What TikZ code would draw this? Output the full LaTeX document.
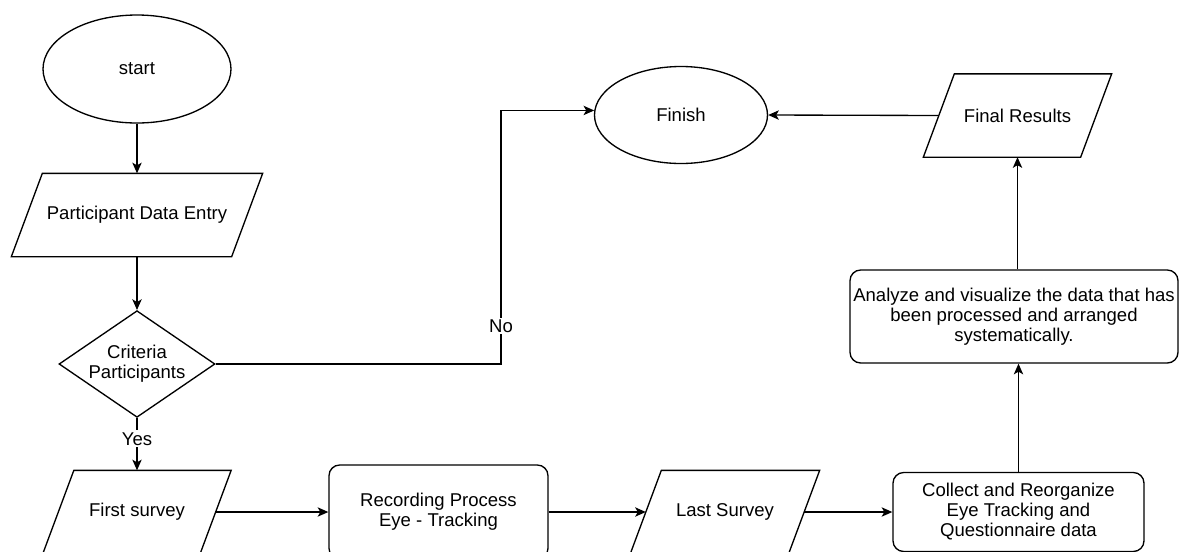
\documentclass[tikz,border=0pt]{standalone}
\usepackage{fontspec}
\setmainfont{Liberation Sans}
\usetikzlibrary{shapes.geometric,arrows.meta,calc}

\begin{document}
\begin{tikzpicture}[x=0.75pt,y=-0.75pt,line width=1pt,
  font=\fontsize{13.9}{15}\selectfont,
  term/.style={ellipse, draw, inner sep=0pt},
  io/.style={rectangle, inner sep=0pt, minimum height=61.5pt, align=center},
  proc/.style={rectangle, draw, rounded corners=8pt, inner sep=0pt, align=center},
  dec/.style={diamond, draw, inner sep=0pt, aspect=1.46,
              minimum width=117pt, minimum height=80pt, align=center},
  arrow/.style={-{Stealth[length=8pt,width=7pt,inset=2pt]}},
  lbl/.style={fill=white, inner sep=1.5pt}
]
\useasboundingbox (0,0) rectangle (1179,551);

% terminals
\node[term, minimum width=141pt, minimum height=81pt] (start) at (137,69) {start};
\node[term, minimum width=129.75pt, minimum height=72.75pt] (finish) at (681,115) {Finish};

% input / output (parallelograms drawn below)
\node[io, minimum width=164.25pt] (entry) at (137,215) {Participant Data Entry};
\node[io, minimum width=117pt] (first) at (137,512) {First survey};
\node[io, minimum width=117.75pt] (last) at (725,512) {Last Survey};
\node[io, minimum width=117pt] (final) at (1017.5,115.5) {Final Results};

% decision
\node[dec] (crit) at (137,364) {Criteria\\Participants};

% processes
\node[proc, minimum width=164.25pt, minimum height=70.5pt] (rec) at (438.5,512)
  {Recording Process\\Eye - Tracking};
\node[proc, minimum width=188.25pt, minimum height=59.25pt] (collect) at (1018.5,512)
  {Collect and Reorganize\\Eye Tracking and\\Questionnaire data};
\node[proc, minimum width=246pt, minimum height=69.75pt] (analyze) at (1014,316.5)
  {Analyze and visualize the data that has\\been processed and arranged\\systematically.};

% parallelogram outlines around the io nodes
\foreach \n in {entry,first,last,final}
  \draw ($(\n.north west)+(15.5,0)$) -- ($(\n.north east)+(15.5,0)$)
     -- ($(\n.south east)-(15.5,0)$) -- ($(\n.south west)-(15.5,0)$) -- cycle;

% connectors
\coordinate (nox) at (501,0);
\draw[arrow] (start.south) -- (entry.north);
\draw[arrow] (entry.south) -- (crit.north);
\draw[arrow] (crit.south) -- node[lbl, pos=0.4] {Yes} (first.north);
\draw[arrow] (crit.east) -- (crit.east -| nox)
  -- node[lbl, pos=0.15] {No} (nox |- finish.177) -- (finish.177);
\draw[arrow] (first.east) -- (rec.west);
\draw[arrow] (rec.east) -- (last.west);
\draw[arrow] (last.east) -- (collect.west);
\draw[arrow] (collect.north) -- (collect.north |- analyze.south);
\draw[arrow] (final.south |- analyze.north) -- (final.south);
\draw[arrow] (final.west) -- (finish.east);
\end{tikzpicture}
\end{document}
